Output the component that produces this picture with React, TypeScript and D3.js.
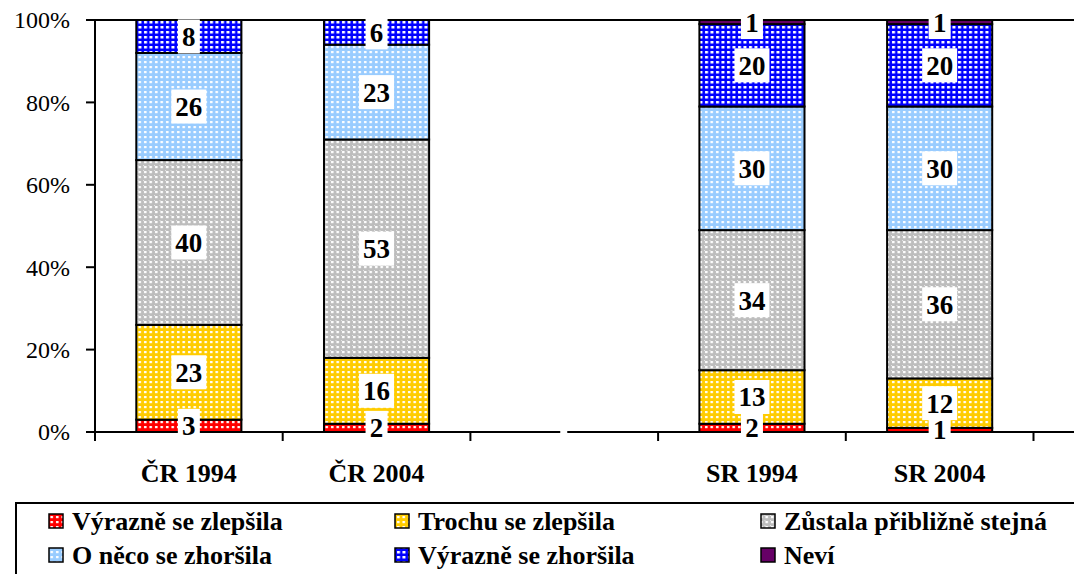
import React from 'react';
import * as d3 from 'd3';

// categories (the empty one is the gap between CR and SR)
const categories = ['ČR 1994', 'ČR 2004', '', 'SR 1994', 'SR 2004', ' '];
const seriesNames = [
  'Výrazně se zlepšila',
  'Trochu se zlepšila',
  'Zůstala přibližně stejná',
  'O něco se zhoršila',
  'Výrazně se zhoršila',
  'Neví',
];
const seriesColors = ['#ff0000', '#ffcc00', '#bdbdbd', '#99ccff', '#0000ff', '#660066'];
// values per category, bottom to top, in series order
const crValues1994 = [3, 23, 40, 26, 8, 0];
const crValues2004 = [2, 16, 53, 23, 6, 0];
const srValues1994 = [2, 13, 34, 30, 20, 1];
const srValues2004 = [1, 12, 36, 30, 20, 1];
const yTicks = [0, 20, 40, 60, 80, 100];

const valuesByCategory: Record<string, number[]> = {
  'ČR 1994': crValues1994,
  'ČR 2004': crValues2004,
  'SR 1994': srValues1994,
  'SR 2004': srValues2004,
};

const W = 1074;
const H = 574;
const left = 95;
const top = 20;
const bottom = 432;
const step = 187.7;
const serif = { fontFamily: "'Liberation Serif', 'Times New Roman', 'DejaVu Serif', serif" };

const App: React.FC = () => {
  const x = d3
    .scaleBand<string>()
    .domain(categories)
    .range([left, left + step * categories.length])
    .paddingInner(0.44)
    .paddingOuter(0.22);
  const y = d3.scaleLinear().domain([0, 100]).range([bottom, top]);

  const rows = Object.keys(valuesByCategory).map(cat => {
    const vals = valuesByCategory[cat];
    let acc = 0;
    const segs = vals.map((v, i) => {
      const s = { i, v, y0: acc, y1: acc + v };
      acc += v;
      return s;
    });
    return { cat, segs };
  });

  const gapX = (x('') as number) + x.bandwidth() / 2;
  const tickXs = d3.range(0, categories.length + 1).map(i => left + i * x.step());

  return (
    <svg
      width={W}
      height={H}
      style={{ position: 'absolute', left: 0, top: 0, background: '#fff', ...serif }}
    >
      <defs>
        {seriesColors.map((c, i) => (
          <pattern key={i} id={`pat${i}`} width={5.5} height={5} patternUnits="userSpaceOnUse">
            <rect width={5.5} height={5} fill={c} />
            {i === 2 && (
              <>
                <rect x={0} y={0} width={1} height={1} fill="#e6e6e6" />
                <rect x={2} y={2} width={1} height={1} fill="#9a9a9a" />
              </>
            )}
            {i < 5 && <rect x={1} y={1} width={i === 4 ? 3 : 2.5} height={i === 4 ? 2.5 : 2.2} fill="#fff" />}
          </pattern>
        ))}
      </defs>

      {/* top border of the plot area */}
      <line x1={left} x2={W} y1={top} y2={top} stroke="#000" strokeWidth={2} />

      {/* bars */}
      {rows.map(r => (
        <g key={r.cat}>
          {r.segs
            .filter(s => s.v > 0)
            .map(s => (
              <rect
                key={s.i}
                x={x(r.cat)}
                y={y(s.y1)}
                width={x.bandwidth()}
                height={y(s.y0) - y(s.y1)}
                fill={`url(#pat${s.i})`}
                stroke="#000"
                strokeWidth={2}
              />
            ))}
        </g>
      ))}

      {/* axes */}
      <line x1={left} x2={left} y1={top} y2={bottom + 1} stroke="#000" strokeWidth={2} />
      <line x1={left - 1} x2={gapX - 4} y1={bottom} y2={bottom} stroke="#000" strokeWidth={2} />
      <line x1={gapX + 3} x2={W} y1={bottom} y2={bottom} stroke="#000" strokeWidth={2} />
      {yTicks.map(t => (
        <g key={t}>
          <line x1={left - 9} x2={left} y1={y(t)} y2={y(t)} stroke="#000" strokeWidth={2} />
          <text x={70} y={y(t)} dy="0.35em" textAnchor="end" fontSize={24} style={serif}>
            {t}%
          </text>
        </g>
      ))}
      {tickXs.map((tx, i) => (
        <line key={i} x1={tx} x2={tx} y1={bottom} y2={bottom + 9} stroke="#000" strokeWidth={2} />
      ))}
      {categories.map(c => (
        <text
          key={c}
          x={(x(c) as number) + x.bandwidth() / 2}
          y={482}
          textAnchor="middle"
          fontSize={26}
          fontWeight="bold"
          style={serif}
        >
          {c}
        </text>
      ))}

      {/* value labels */}
      {rows.map(r =>
        r.segs
          .filter(s => s.v > 0)
          .map(s => {
            const cx = (x(r.cat) as number) + x.bandwidth() / 2;
            const cy = y((s.y0 + s.y1) / 2);
            const txt = String(s.v);
            const bw = txt.length * 13 + 9;
            return (
              <g key={r.cat + s.i}>
                <rect x={cx - bw / 2} y={cy - 17} width={bw} height={34} fill="#fff" />
                <text x={cx} y={cy} dy="0.35em" textAnchor="middle" fontSize={27} fontWeight="bold" style={serif}>
                  {txt}
                </text>
              </g>
            );
          })
      )}

      {/* legend */}
      <rect x={16} y={503} width={W + 10} height={H} fill="#fff" stroke="#000" strokeWidth={2} />
      {seriesNames.map((n, i) => {
        const col = i % 3;
        const row = Math.floor(i / 3);
        const lx = [49, 395, 761][col];
        const ly = [521, 555][row];
        return (
          <g key={n}>
            <rect x={lx} y={ly - 7} width={14} height={14} fill={`url(#pat${i})`} stroke="#000" strokeWidth={1.5} />
            <text x={lx + 23} y={ly + 9} fontSize={26} fontWeight="bold" style={serif}>
              {n}
            </text>
          </g>
        );
      })}
    </svg>
  );
};

export default App;
